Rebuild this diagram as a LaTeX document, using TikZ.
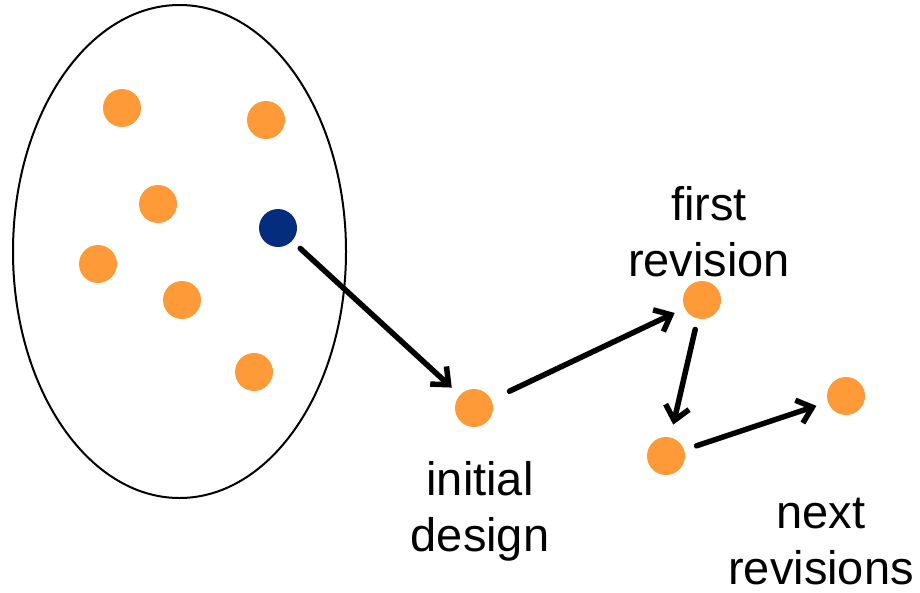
\documentclass[tikz,border=0pt]{standalone}
\usepackage{fontspec}
\setmainfont{Liberation Sans}
\usetikzlibrary{arrows.meta}
\begin{document}
\begin{tikzpicture}[x=1pt, y=-1pt, line join=round, line cap=round, >={Straight Barb[length=14pt,width=24pt]}]
	\definecolor{dotorange}{RGB}{255,154,56}
	\definecolor{dotnavy}{RGB}{4,45,126}
	\tikzset{
		dot/.style={circle, fill=dotorange, inner sep=0pt, minimum size=38pt},
		chosen/.style={dot, fill=dotnavy},
		lbl/.style={align=center, inner sep=0pt, font=\fontsize{47}{56}\selectfont},
		move/.style={->, line width=5.5pt}
	}
	\useasboundingbox (0,0) rectangle (920,592);
	% the pool of candidates
	\draw[line width=2pt] (179.5,251.5) ellipse [x radius=166.5, y radius=246.5];
	\foreach \x/\y [count=\k] in {122/108,266/120,158/204,98/264,182/300,254/372}{
		\node[dot] (p\k) at (\x,\y) {};
	}
	\node[chosen] (pick) at (278,228) {};
	% design and its revisions
	\node[dot] (init) at (474,408) {};
	\node[dot] (rev1) at (702,300) {};
	\node[dot] (rev2) at (666,456) {};
	\node[dot] (rev3) at (846,396) {};
	\node[lbl] (tinit) at (480,511) {initial\\design};
	\node[lbl] (trev1) at (709,232) {first\\revision};
	\node[lbl] (trev3) at (821,542) {next\\revisions};
	\draw[move, shorten <=11pt, shorten >=11pt] (pick) -- (init);
	\draw[move, shorten <=20pt, shorten >=11pt] (init) -- (rev1);
	\draw[move, shorten <=11pt, shorten >=13pt] (rev1) -- (rev2);
	\draw[move, shorten <=13pt, shorten >=12pt] (rev2) -- (rev3);
\end{tikzpicture}
\end{document}
